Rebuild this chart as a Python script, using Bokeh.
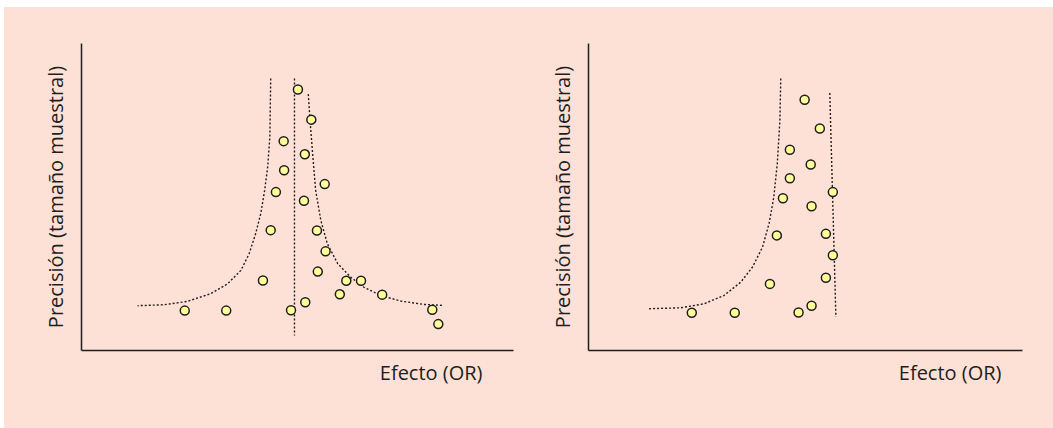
from bokeh.plotting import figure
from bokeh.layouts import row
from bokeh.models import Range1d, FixedTicker, Title
from bokeh.embed import file_html
from bokeh.resources import INLINE

# ---------------- data (arbitrary effect / precision units) ----------------
# Left panel: symmetric funnel
left_x = [5.01, 5.32, 4.68, 5.17, 4.69, 5.63, 4.50, 5.15, 4.38, 5.45, 5.65, 5.47,
          4.20, 6.13, 6.47, 5.98, 6.96, 5.18, 2.39, 3.35, 4.85, 8.12, 8.26]
left_y = [8.50, 7.52, 6.82, 6.39, 5.87, 5.42, 5.16, 4.88, 3.92, 3.91, 3.23, 2.57,
          2.28, 2.27, 2.27, 1.83, 1.82, 1.57, 1.30, 1.30, 1.31, 1.33, 0.86]

left_center_x = [4.93, 4.93]
left_center_y = [8.86, 0.49]

left_lo_x = [4.38, 4.36, 4.31, 4.24, 4.15, 4.03, 3.88, 3.69, 3.38, 2.99, 2.45, 1.91, 1.30]
left_lo_y = [8.86, 6.96, 5.98, 5.22, 4.46, 3.80, 3.15, 2.61, 2.17, 1.85, 1.60, 1.49, 1.46]

left_hi_x = [5.25, 5.29, 5.35, 5.42, 5.54, 5.69, 5.93, 6.23, 6.54, 6.93, 7.39, 7.93, 8.36]
left_hi_y = [8.35, 7.50, 6.41, 5.22, 4.24, 3.48, 2.83, 2.39, 2.06, 1.79, 1.61, 1.50, 1.47]

# Right panel: asymmetric funnel (publication bias)
right_x = [4.98, 5.33, 4.64, 5.12, 4.64, 5.63, 4.48, 5.14, 4.34, 5.47, 5.63, 5.47,
           4.18, 5.14, 4.84, 3.37, 2.38]
right_y = [8.17, 7.23, 6.54, 6.06, 5.61, 5.16, 4.96, 4.70, 3.75, 3.80, 3.10, 2.37,
           2.17, 1.46, 1.24, 1.23, 1.23]

right_lo_x = [4.43, 4.41, 4.35, 4.27, 4.16, 4.01, 3.78, 3.51, 3.12, 2.66, 2.12, 1.35]
right_lo_y = [8.86, 7.50, 6.09, 5.00, 4.13, 3.37, 2.72, 2.23, 1.79, 1.52, 1.39, 1.36]

right_edge_x = [5.56, 5.70]
right_edge_y = [8.39, 1.09]

x_label = "Efecto (OR)"
y_label = "Precisión (tamaño muestral)"

# ---------------- style ----------------
BG = "#FDE1D6"
INK = "#1e1e1e"
FONT = "Open Sans"
FONT_SIZE = "20px"
DOT_FILL = "#FFFF99"


def make_panel(width, border_left, border_right, title_offset):
    p = figure(width=width, height=421, x_range=Range1d(0, 10), y_range=Range1d(0, 10),
               output_backend="svg", toolbar_location=None,
               min_border_left=border_left, min_border_right=border_right,
               min_border_top=36, min_border_bottom=78)
    p.background_fill_color = BG
    p.border_fill_color = BG
    p.outline_line_color = None
    p.grid.visible = False
    for ax in (p.xaxis, p.yaxis):
        ax.ticker = FixedTicker(ticks=[])
        ax.major_tick_line_color = None
        ax.minor_tick_line_color = None
        ax.major_tick_out = 0
        ax.minor_tick_out = 0
        ax.major_label_standoff = 0
        ax.major_label_text_font_size = "0px"
        ax.axis_line_color = INK
        ax.axis_line_width = 1.5
    p.yaxis.axis_label = y_label
    p.yaxis.axis_label_text_font = FONT
    p.yaxis.axis_label_text_font_size = FONT_SIZE
    p.yaxis.axis_label_text_font_style = "normal"
    p.yaxis.axis_label_text_color = INK
    p.yaxis.axis_label_standoff = 13
    t = Title(text=x_label, align="right", offset=title_offset, standoff=12,
              text_font=FONT, text_font_size=FONT_SIZE, text_font_style="normal",
              text_color=INK)
    p.add_layout(t, "below")
    return p


dash = dict(line_color=INK, line_width=1.4, line_dash="2 2")
dots = dict(size=9, fill_color=DOT_FILL, line_color=INK, line_width=1.5)

p1 = make_panel(526, 77, 17, 31)
p1.line(left_lo_x, left_lo_y, **dash)
p1.line(left_hi_x, left_hi_y, **dash)
p1.line(left_center_x, left_center_y, **dash)
p1.scatter(left_x, left_y, **dots)

p2 = make_panel(523, 58, 31, 21)
p2.line(right_lo_x, right_lo_y, **dash)
p2.line(right_edge_x, right_edge_y, **dash)
p2.scatter(right_x, right_y, **dots)

layout = row(p1, p2, margin=(7, 0, 0, 4), styles={"background-color": BG})
open("out.html", "w").write(file_html(layout, INLINE))
